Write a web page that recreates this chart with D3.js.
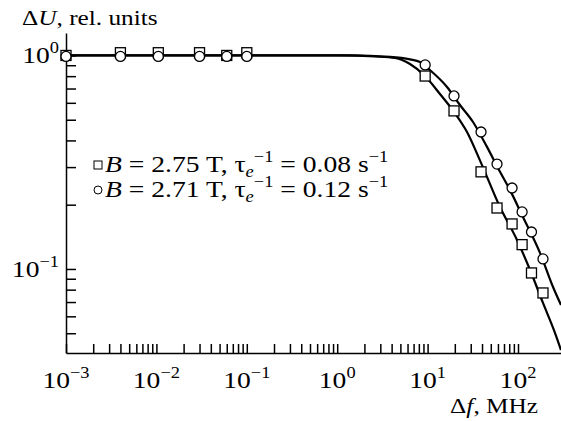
<!DOCTYPE html>
<html>
<head>
<meta charset="utf-8">
<script src="https://cdn.jsdelivr.net/npm/d3@7"></script>
<style>
  body { margin: 0; background: #fff; }
  text { font-family: "Liberation Serif", "Times New Roman", serif; fill: #000; }
</style>
</head>
<body>
<div id="chart"></div>
<script>
// measured points, frequency in MHz
const lowFreq = [0.001, 0.004, 0.0105, 0.03, 0.06, 0.1];
const highFreq = [9.4, 19.6, 39, 58.6, 86, 111, 141, 189];
const squaresLow = [1.0, 1.03, 1.03, 1.03, 1.0, 1.03];
const squaresHigh = [0.801, 0.550, 0.285, 0.193, 0.1625, 0.130, 0.0958, 0.0772];
const circlesLow = [0.99, 0.99, 0.99, 0.99, 0.99, 0.99];
const circlesHigh = [0.903, 0.646, 0.438, 0.310, 0.2395, 0.185, 0.149, 0.1114];

// fitted curves
const fitSquareF = [0.001, 1.07, 2.62, 4.36, 6.39, 9.36, 13.7, 19.6, 27.3, 39, 63.2, 97.5, 136, 189, 257, 299];
const fitSquareU = [1, 1, 0.989, 0.973, 0.912, 0.801, 0.660, 0.544, 0.438, 0.314, 0.195, 0.1367, 0.0989, 0.0693, 0.0501, 0.0417];
const fitCircleF = [0.001, 1.39, 3.84, 6.39, 8.24, 10.6, 16.4, 22.8, 31.8, 45.4, 63.2, 81.6, 113.5, 175, 244, 299];
const fitCircleU = [1, 1, 0.984, 0.958, 0.932, 0.855, 0.712, 0.586, 0.488, 0.373, 0.285, 0.234, 0.175, 0.119, 0.0823, 0.0678];

const xDecades = [-3, -2, -1, 0, 1, 2];
const yDecades = [0, -1];

const W = 561, H = 421;
const sx = 1.15; // the figure is a bit stretched sideways
const fs = 24, fsSmall = 16;

const svg = d3.select("#chart").append("svg")
  .attr("width", W).attr("height", H);

const x = d3.scaleLog().domain([0.001, 299]).range([66, 561]);
const y = d3.scaleLog().domain([0.0404, 1.274]).range([353, 33]);

function label(px, py, anchor, size) {
  return svg.append("text")
    .attr("transform", `translate(${px},${py}) scale(${sx},1)`)
    .attr("text-anchor", anchor)
    .attr("font-size", size || fs);
}
function sup(t, s) {
  t.append("tspan").attr("font-size", fsSmall).attr("dy", -10).text(s);
}

// axes
svg.append("g")
  .attr("transform", `translate(0,${y.range()[0]})`)
  .call(d3.axisBottom(x)
    .tickValues(x.ticks().filter(v => v <= 100.1))
    .tickFormat("")
    .tickSize(-9).tickSizeOuter(0));
svg.append("g")
  .attr("transform", `translate(${x.range()[0]},0)`)
  .call(d3.axisLeft(y)
    .tickValues(y.ticks())
    .tickFormat("")
    .tickSize(-10).tickSizeOuter(0));
svg.selectAll(".domain, .tick line")
  .attr("stroke", "#000").attr("stroke-width", 1.5);

// tick labels
xDecades.forEach(d => {
  const t = label(x(Math.pow(10, d)), 388, "middle");
  t.append("tspan").text("10");
  sup(t, d < 0 ? "\u2212" + (-d) : String(d));
});
yDecades.forEach(d => {
  const t = label(59, y(Math.pow(10, d)) + 8, "end");
  t.append("tspan").text("10");
  sup(t, d < 0 ? "\u2212" + (-d) : String(d));
});

// axis titles
const ty = label(22, 25, "start", 22);
ty.append("tspan").text("\u0394");
ty.append("tspan").attr("font-style", "italic").text("U");
ty.append("tspan").text(", rel. units");

const tx = label(538, 413, "end", 22);
tx.append("tspan").text("\u0394");
tx.append("tspan").attr("font-style", "italic").text("f");
tx.append("tspan").text(", MHz");

// fit curves
const line = d3.line()
  .x(d => x(d[0])).y(d => y(d[1]))
  .curve(d3.curveMonotoneX);
[[fitSquareF, fitSquareU], [fitCircleF, fitCircleU]].forEach(([fr, us]) => {
  svg.append("path")
    .datum(fr.map((f, i) => [f, us[i]]))
    .attr("d", line)
    .attr("fill", "none").attr("stroke", "#000").attr("stroke-width", 2.2);
});

// data points
const sq = lowFreq.map((f, i) => [f, squaresLow[i]])
  .concat(highFreq.map((f, i) => [f, squaresHigh[i]]));
const ci = lowFreq.map((f, i) => [f, circlesLow[i]])
  .concat(highFreq.map((f, i) => [f, circlesHigh[i]]));

svg.append("g").selectAll("rect").data(sq).join("rect")
  .attr("x", d => x(d[0]) - 5).attr("y", d => y(d[1]) - 5)
  .attr("width", 10).attr("height", 10)
  .attr("fill", "#fff").attr("stroke", "#000").attr("stroke-width", 1.3);
svg.append("g").selectAll("circle").data(ci).join("circle")
  .attr("cx", d => x(d[0])).attr("cy", d => y(d[1]))
  .attr("r", 5)
  .attr("fill", "#fff").attr("stroke", "#000").attr("stroke-width", 1.3);

// legend
const legend = [
  { shape: "square", field: "2.75", rate: "0.08" },
  { shape: "circle", field: "2.71", rate: "0.12" }
];
legend.forEach((l, i) => {
  const by = 172 + i * 25;
  if (l.shape === "square") {
    svg.append("rect").attr("x", 94).attr("y", by - 11).attr("width", 8).attr("height", 8)
      .attr("fill", "#fff").attr("stroke", "#000").attr("stroke-width", 1);
  } else {
    svg.append("circle").attr("cx", 98).attr("cy", by - 7).attr("r", 4)
      .attr("fill", "#fff").attr("stroke", "#000").attr("stroke-width", 1);
  }
  const t = label(105, by, "start");
  t.append("tspan").attr("font-style", "italic").text("B");
  t.append("tspan").text(` = ${l.field} T, \u03C4`);
  t.append("tspan").attr("font-style", "italic").attr("font-size", fsSmall).attr("dy", 5).text("e");
  t.append("tspan").attr("font-size", fsSmall).attr("dy", -15).text("\u22121");
  t.append("tspan").attr("dy", 10).text(` = ${l.rate} s`);
  sup(t, "\u22121");
});
</script>
</body>
</html>
